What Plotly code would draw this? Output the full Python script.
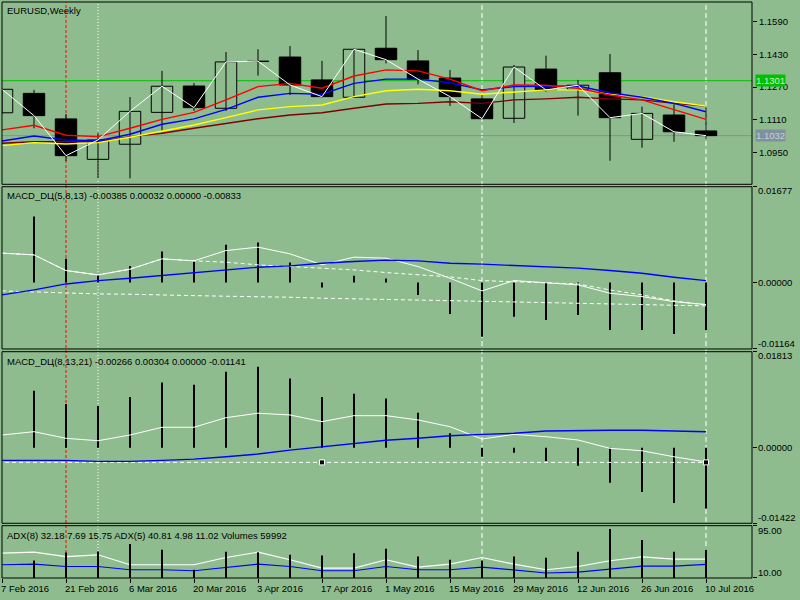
import plotly.graph_objects as go

# ---------------- data ----------------
weeks = ['7 Feb 2016', '14 Feb 2016', '21 Feb 2016', '28 Feb 2016', '6 Mar 2016', '13 Mar 2016',
         '20 Mar 2016', '27 Mar 2016', '3 Apr 2016', '10 Apr 2016', '17 Apr 2016', '24 Apr 2016',
         '1 May 2016', '8 May 2016', '15 May 2016', '22 May 2016', '29 May 2016', '5 Jun 2016',
         '12 Jun 2016', '19 Jun 2016', '26 Jun 2016', '3 Jul 2016', '10 Jul 2016']
tick_labels = ['7 Feb 2016', '21 Feb 2016', '6 Mar 2016', '20 Mar 2016', '3 Apr 2016', '17 Apr 2016',
               '1 May 2016', '15 May 2016', '29 May 2016', '12 Jun 2016', '26 Jun 2016', '10 Jul 2016']

open_ = [1.1144, 1.1239, 1.1114, 1.0916, 1.0990, 1.1146, 1.1275, 1.1166, 1.1395, 1.1417, 1.1305, 1.1220,
         1.1460, 1.1398, 1.1314, 1.1212, 1.1117, 1.1358, 1.1259, 1.1340, 1.1014, 1.1133, 1.1055]
high = [1.1262, 1.1256, 1.1137, 1.1046, 1.1221, 1.1349, 1.1290, 1.1442, 1.1455, 1.1471, 1.1398, 1.1458,
        1.1618, 1.1451, 1.1354, 1.1231, 1.1378, 1.1424, 1.1305, 1.1432, 1.1174, 1.1186, 1.1169]
low = [1.1140, 1.1068, 1.0908, 1.0823, 1.0823, 1.1056, 1.1153, 1.1153, 1.1326, 1.1231, 1.1219, 1.1218,
       1.1386, 1.1283, 1.1177, 1.1113, 1.1094, 1.1247, 1.1130, 1.0909, 1.0973, 1.1002, 1.1017]
close = [1.1259, 1.1130, 1.0934, 1.1011, 1.1151, 1.1274, 1.1169, 1.1393, 1.1397, 1.1280, 1.1223, 1.1455,
         1.1404, 1.1309, 1.1223, 1.1115, 1.1368, 1.1256, 1.1279, 1.1120, 1.1141, 1.1051, 1.1032]

ma_red = [1.1060, 1.1083, 1.1034, 1.1027, 1.1068, 1.1112, 1.1146, 1.1207, 1.1272, 1.1288, 1.1264, 1.1324,
          1.1354, 1.1349, 1.1309, 1.1252, 1.1280, 1.1279, 1.1264, 1.1231, 1.1207, 1.1158, 1.1112]
ma_blue = [1.1006, 1.1030, 1.1011, 1.1007, 1.1039, 1.1088, 1.1114, 1.1161, 1.1220, 1.1239, 1.1235, 1.1288,
           1.1309, 1.1309, 1.1291, 1.1256, 1.1272, 1.1275, 1.1275, 1.1242, 1.1220, 1.1190, 1.1149]
ma_yellow = [1.0983, 1.0998, 1.0991, 1.0998, 1.1024, 1.1055, 1.1084, 1.1120, 1.1158, 1.1174, 1.1182, 1.1223,
             1.1252, 1.1259, 1.1252, 1.1235, 1.1247, 1.1256, 1.1256, 1.1235, 1.1223, 1.1198, 1.1177]
ma_maroon = [1.0995, 1.1002, 1.1002, 1.1002, 1.1027, 1.1044, 1.1068, 1.1093, 1.1115, 1.1133, 1.1144, 1.1166,
             1.1187, 1.1190, 1.1198, 1.1190, 1.1207, 1.1212, 1.1220, 1.1212, 1.1207, 1.1190, 1.1177]
green_level = 1.1301
grey_level = 1.1032
price_ticks = [1.1590, 1.1430, 1.1270, 1.1110, 1.0950]

p2_hist = [None, 0.01156, 0.00414, 0.00146, 0.00291, 0.00542, 0.00367, 0.00659, 0.00700, 0.00349, -0.00089,
           0.00116, 0.00068, -0.00217, -0.00551, -0.00949, -0.00598, -0.00656, -0.00568, -0.00831, -0.00831,
           -0.00901, -0.00833]
p2_main = [0.00514, 0.00484, 0.00209, 0.00133, 0.00233, 0.00414, 0.00379, 0.00559, 0.00619, 0.00502, 0.00309,
           0.00444, 0.00426, 0.00279, 0.00075, -0.00147, 0.00033, -0.00002, -0.00042, -0.00188, -0.00247,
           -0.00335, -0.00385]
p2_signal = [0.00514, 0.00484, 0.00209, 0.00133, 0.00233, 0.00414, 0.00379, 0.00356, 0.00309, 0.00279, 0.00256,
             0.00221, 0.00174, 0.00133, 0.00098, 0.00033, 0.00016, -0.00002, -0.00025, -0.00130, -0.00217,
             -0.00323, -0.00395]
p2_lower = [-0.00147, -0.00165, -0.00188, -0.00200, -0.00205, -0.00223, -0.00230, -0.00240, -0.00247, -0.00258,
            -0.00275, -0.00288, -0.00293, -0.00305, -0.00317, -0.00328, -0.00340, -0.00352, -0.00363, -0.00375,
            -0.00388, -0.00398, -0.00410]
p2_blue = [-0.00217, -0.00130, -0.00025, 0.00033, 0.00075, 0.00121, 0.00163, 0.00221, 0.00268, 0.00291, 0.00338,
           0.00367, 0.00391, 0.00379, 0.00338, 0.00321, 0.00296, 0.00279, 0.00251, 0.00209, 0.00163, 0.00093,
           0.00032]
p2_ticks = [0.01677, 0.0, -0.01164]

p3_hist = [None, 0.01075, 0.00829, 0.00791, 0.00961, 0.01232, 0.01188, 0.01434, 0.01529, 0.01307, 0.00961,
           0.01018, 0.00929, 0.00664, 0.00274, -0.00168, -0.00093, -0.00250, -0.00339, -0.00660, -0.00830,
           -0.01039, -0.01141]
p3_main = [0.00242, 0.00305, 0.00180, 0.00134, 0.00242, 0.00388, 0.00388, 0.00569, 0.00653, 0.00620, 0.00494,
           0.00607, 0.00607, 0.00526, 0.00399, 0.00166, 0.00255, 0.00210, 0.00148, -0.00009, -0.00055,
           -0.00168, -0.00266]
p3_blue = [-0.00236, -0.00236, -0.00236, -0.00255, -0.00255, -0.00236, -0.00212, -0.00168, -0.00117, -0.00042,
           0.00021, 0.00072, 0.00142, 0.00180, 0.00229, 0.00255, 0.00274, 0.00318, 0.00331, 0.00331, 0.00331,
           0.00312, 0.00304]
p3_level = -0.00274
p3_anchor_weeks = ['17 Apr 2016', '10 Jul 2016']
p3_ticks = [0.01813, 0.0, -0.01422]

adx8 = [31.5, 32.6, 28.7, 28.7, 23.4, 23.4, 21.8, 27.1, 32.6, 28.7, 21.8, 21.8, 28.7, 23.4, 23.4, 27.8, 23.4,
        18.1, 19.7, 24.5, 29.4, 29.4, 32.18]
adx5 = [50.4, 52.0, 44.9, 47.7, 31.5, 31.5, 31.5, 43.3, 52.0, 39.6, 26.2, 26.2, 39.6, 27.8, 32.6, 43.3, 32.6,
        23.4, 28.7, 38.0, 44.4, 40.7, 40.81]
volumes = [None, 37300, 54300, 56400, 72700, 60000, 17600, 55800, 55100, 49400, 47900, 53000, 62100, 45800,
           38800, 37300, 45800, 43000, 55800, 104500, 81200, 55800, 59992]
p4_ticks = [95.0, 10.0]

red_vline_week = '21 Feb 2016'
dotted_vline_week = '28 Feb 2016'
dashed_vline_weeks = ['22 May 2016', '10 Jul 2016']

titles = ['EURUSD,Weekly',
          'MACD_DЦ(5,8,13) -0.00385 0.00032 0.00000 -0.00833',
          'MACD_DЦ(8,13,21) -0.00266 0.00304 0.00000 -0.01141',
          'ADX(8) 32.18 7.69 15.75 ADX(5) 40.81 4.98 11.02 Volumes 59992']

# ---------------- figure ----------------
BG = '#8fbc8f'
FONT = 'Liberation Sans'
FS = 9.5
x = list(range(len(weeks)))
fig = go.Figure()

# wicks
wx, wy = [], []
for i in x:
    wx += [i, i, None]
    wy += [low[i], high[i], None]
fig.add_trace(go.Scatter(x=wx, y=wy, mode='lines', line=dict(color='black', width=1),
                         xaxis='x', yaxis='y', hoverinfo='skip'))
bull = [i for i in x if close[i] >= open_[i]]
bear = [i for i in x if close[i] < open_[i]]
fig.add_trace(go.Bar(x=bull, y=[close[i] - open_[i] for i in bull], base=[open_[i] for i in bull],
                     width=0.67, marker=dict(color=BG, line=dict(color='black', width=1)),
                     xaxis='x', yaxis='y'))
fig.add_trace(go.Bar(x=bear, y=[open_[i] - close[i] for i in bear], base=[close[i] for i in bear],
                     width=0.67, marker=dict(color='black', line=dict(color='black', width=1)),
                     xaxis='x', yaxis='y'))
for series, col in [(ma_maroon, '#800000'), (ma_yellow, '#ffff00'), (ma_blue, '#0000ff'), (ma_red, '#ff0000')]:
    fig.add_trace(go.Scatter(x=x, y=series, mode='lines', line=dict(color=col, width=1.4),
                             xaxis='x', yaxis='y'))
fig.add_trace(go.Scatter(x=x, y=close, mode='lines', line=dict(color='white', width=1),
                         xaxis='x', yaxis='y'))

# panel 2
fig.add_trace(go.Bar(x=x, y=p2_hist, width=0.06, marker=dict(color='black', line=dict(width=0)),
                     xaxis='x', yaxis='y2'))
fig.add_trace(go.Scatter(x=x, y=p2_lower, mode='lines', line=dict(color='white', width=1, dash='4px,3px'),
                         xaxis='x', yaxis='y2'))
fig.add_trace(go.Scatter(x=x, y=p2_signal, mode='lines', line=dict(color='white', width=1, dash='4px,3px'),
                         xaxis='x', yaxis='y2'))
fig.add_trace(go.Scatter(x=x, y=p2_main, mode='lines', line=dict(color='white', width=1),
                         xaxis='x', yaxis='y2'))
fig.add_trace(go.Scatter(x=x, y=p2_blue, mode='lines', line=dict(color='#0000ff', width=1.4),
                         xaxis='x', yaxis='y2'))

# panel 3
fig.add_trace(go.Bar(x=x, y=p3_hist, width=0.06, marker=dict(color='black', line=dict(width=0)),
                     xaxis='x', yaxis='y3'))
fig.add_trace(go.Scatter(x=[x[0] - 1, x[-1]], y=[p3_level, p3_level], mode='lines',
                         line=dict(color='white', width=1, dash='4px,3px'), xaxis='x', yaxis='y3'))
fig.add_trace(go.Scatter(x=x, y=p3_main, mode='lines', line=dict(color='white', width=1),
                         xaxis='x', yaxis='y3'))
fig.add_trace(go.Scatter(x=x, y=p3_blue, mode='lines', line=dict(color='#0000ff', width=1.4),
                         xaxis='x', yaxis='y3'))
fig.add_trace(go.Scatter(x=[weeks.index(w) for w in p3_anchor_weeks], y=[p3_level] * len(p3_anchor_weeks),
                         mode='markers', marker=dict(symbol='square', size=5, color='black',
                                                     line=dict(color='white', width=1)),
                         xaxis='x', yaxis='y3'))

# panel 4
fig.add_trace(go.Bar(x=x, y=volumes, width=0.055, marker=dict(color='black', line=dict(width=0)),
                     xaxis='x', yaxis='y5'))
fig.add_trace(go.Scatter(x=x, y=adx5, mode='lines', line=dict(color='white', width=1.2),
                         xaxis='x', yaxis='y4'))
fig.add_trace(go.Scatter(x=x, y=adx8, mode='lines', line=dict(color='#0000ff', width=1.2),
                         xaxis='x', yaxis='y4'))

# ---------------- layout ----------------
xr = [0, 750 / 32]
dom1 = [0.6835, 1.0]
dom2 = [0.3976, 0.6793]
dom3 = [0.0950, 0.3929]
dom4 = [0.0, 0.0908]

def yax(dom, rng, ticks, labels=False, **kw):
    d = dict(domain=dom, range=rng, side='right', anchor='x', showgrid=False, zeroline=False,
             tickvals=ticks, ticks='outside', ticklen=4, tickcolor='black', showline=False,
             showticklabels=labels, fixedrange=True, automargin=False)
    d.update(kw)
    return d

fig.update_layout(
    width=800, height=600, margin=dict(l=2, r=48, t=2, b=22, autoexpand=False),
    paper_bgcolor=BG, plot_bgcolor=BG, showlegend=False, barmode='overlay',
    font=dict(family=FONT, size=FS, color='black'),
    xaxis=dict(range=xr, anchor='y4', showgrid=False, zeroline=False, showline=False,
               tickvals=[weeks.index(t) for t in tick_labels], ticks='outside', ticklen=4,
               tickcolor='black', showticklabels=False, fixedrange=True, automargin=False),
    yaxis=yax(dom1, [1.07937, 1.16865], price_ticks, labels=True,
              ticktext=['%.4f' % v for v in price_ticks], tickfont=dict(size=FS, color='black')),
    yaxis2=yax(dom2, [-0.01164, 0.01677], p2_ticks),
    yaxis3=yax(dom3, [-0.01422, 0.01813], p3_ticks),
    yaxis4=yax(dom4, [10, 95], p4_ticks),
    yaxis5=dict(overlaying='y4', range=[0, 111500], visible=False, anchor='x', fixedrange=True),
)

shapes = []
# vertical object lines
shapes.append(dict(type='line', xref='x', yref='paper', x0=weeks.index(red_vline_week),
                   x1=weeks.index(red_vline_week), y0=0, y1=1, layer='below',
                   line=dict(color='#ff0000', width=1, dash='3px,2px')))
shapes.append(dict(type='line', xref='x', yref='paper', x0=weeks.index(dotted_vline_week),
                   x1=weeks.index(dotted_vline_week), y0=0, y1=1, layer='below',
                   line=dict(color='white', width=1, dash='1px,2px')))
for w in dashed_vline_weeks:
    shapes.append(dict(type='line', xref='x', yref='paper', x0=weeks.index(w), x1=weeks.index(w),
                       y0=0, y1=1, layer='below', line=dict(color='white', width=1, dash='5px,3px')))
# horizontal price lines
shapes.append(dict(type='line', xref='paper', yref='y', x0=0, x1=1, y0=green_level, y1=green_level,
                   layer='below', line=dict(color='#00c000', width=1)))
shapes.append(dict(type='line', xref='paper', yref='y', x0=0, x1=1, y0=grey_level, y1=grey_level,
                   layer='below', line=dict(color='#8090a0', width=1)))
# panel frames
for ref in ['y domain', 'y2 domain', 'y3 domain', 'y4 domain']:
    shapes.append(dict(type='rect', xref='paper', yref=ref, x0=0, x1=1, y0=0, y1=1,
                       line=dict(color='black', width=1), fillcolor='rgba(0,0,0,0)', layer='above'))
fig.update_layout(shapes=shapes)

ann = []
for ref, t, ys in zip(['y domain', 'y2 domain', 'y3 domain', 'y4 domain'], titles, [-1, -1.5, -2.5, -2]):
    ann.append(dict(xref='paper', yref=ref, x=0, y=1, xanchor='left', yanchor='top', xshift=3, yshift=ys,
                    text=t, showarrow=False, font=dict(size=FS, color='black')))
# right-hand scale labels for the indicator panels
for yref, vals, fmt, shifts in [('y2', p2_ticks, '%.5f', [-4, 0, 5]), ('y3', p3_ticks, '%.5f', [-4, 0, 6]),
                                ('y4', p4_ticks, '%.2f', [-5, 5])]:
    for v, s in zip(vals, shifts):
        ann.append(dict(xref='paper', yref=yref, x=1, y=v, xanchor='left', yanchor='middle', xshift=4,
                        yshift=s, text=fmt % v, showarrow=False, font=dict(size=FS, color='black')))
# price level boxes
ann.append(dict(xref='paper', yref='y', x=1, y=green_level, xanchor='left', yanchor='middle', xshift=3,
                text='%.4f' % green_level, showarrow=False, bgcolor='#00c000', borderpad=0,
                font=dict(size=FS, color='#d0f0d0')))
ann.append(dict(xref='paper', yref='y', x=1, y=grey_level, xanchor='left', yanchor='middle', xshift=3,
                text='%.4f' % grey_level, showarrow=False, bgcolor='#8090a0', borderpad=0,
                font=dict(size=FS, color='#c8d0d0')))
# date labels
for t in tick_labels:
    ann.append(dict(xref='x', yref='paper', x=weeks.index(t), y=0, xanchor='left', yanchor='top',
                    xshift=-3, yshift=-3, text=t, showarrow=False, font=dict(size=FS, color='black')))
fig.update_layout(annotations=ann)

fig.write_html('out.html', config={'displayModeBar': False},
               post_script="document.body.style.margin='0';document.body.style.overflow='hidden';")
